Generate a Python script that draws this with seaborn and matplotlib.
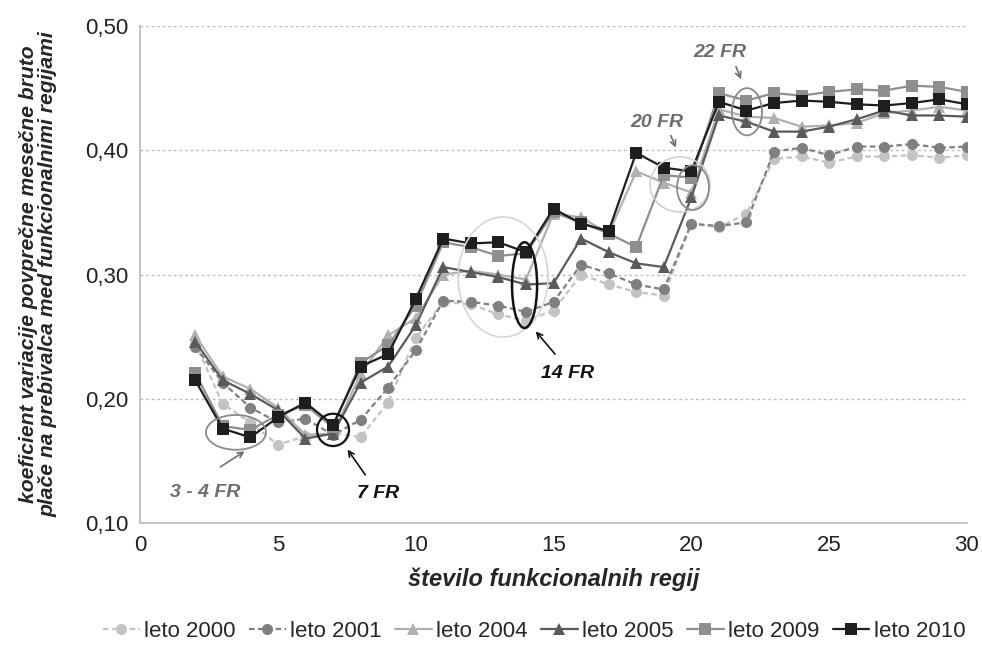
import numpy as np
import pandas as pd
import matplotlib
matplotlib.use("Agg")
import matplotlib.pyplot as plt
from matplotlib.patches import Ellipse
from matplotlib.ticker import FuncFormatter
import seaborn as sns

# number of functional regions
regije = list(range(2, 31))

leto_2000 = [0.245, 0.196, 0.181, 0.163, 0.170, 0.173, 0.169, 0.197, 0.249, 0.278,
             0.276, 0.268, 0.263, 0.271, 0.300, 0.292, 0.286, 0.283, 0.341, 0.338,
             0.349, 0.393, 0.395, 0.390, 0.395, 0.395, 0.396, 0.394, 0.396]
leto_2001 = [0.242, 0.213, 0.193, 0.181, 0.184, 0.171, 0.183, 0.209, 0.239, 0.279,
             0.278, 0.275, 0.270, 0.278, 0.308, 0.301, 0.292, 0.288, 0.341, 0.339,
             0.342, 0.399, 0.402, 0.396, 0.403, 0.403, 0.405, 0.402, 0.403]
leto_2004 = [0.251, 0.218, 0.208, 0.193, 0.171, 0.172, 0.220, 0.251, 0.265, 0.300,
             0.303, 0.300, 0.296, 0.349, 0.346, 0.333, 0.383, 0.374, 0.366, 0.433,
             0.427, 0.426, 0.419, 0.420, 0.422, 0.430, 0.432, 0.435, 0.432]
leto_2005 = [0.246, 0.215, 0.204, 0.191, 0.168, 0.172, 0.213, 0.226, 0.259, 0.306,
             0.302, 0.298, 0.292, 0.293, 0.329, 0.318, 0.309, 0.306, 0.362, 0.428,
             0.423, 0.415, 0.415, 0.419, 0.425, 0.432, 0.428, 0.428, 0.427]
leto_2009 = [0.221, 0.178, 0.175, 0.187, 0.195, 0.177, 0.229, 0.243, 0.275, 0.326,
             0.322, 0.315, 0.317, 0.350, 0.342, 0.333, 0.322, 0.380, 0.378, 0.446,
             0.440, 0.446, 0.444, 0.447, 0.449, 0.448, 0.452, 0.451, 0.447]
leto_2010 = [0.215, 0.176, 0.169, 0.185, 0.197, 0.179, 0.226, 0.236, 0.280, 0.329,
             0.325, 0.326, 0.318, 0.353, 0.341, 0.335, 0.398, 0.386, 0.383, 0.439,
             0.432, 0.438, 0.440, 0.439, 0.437, 0.436, 0.438, 0.441, 0.437]

serije = {
    "leto 2000": leto_2000,
    "leto 2001": leto_2001,
    "leto 2004": leto_2004,
    "leto 2005": leto_2005,
    "leto 2009": leto_2009,
    "leto 2010": leto_2010,
}

# (color, marker, linestyle)
kratko = (0, (2.5, 1.5))
slog = {
    "leto 2000": ("#c3c3c3", "o", kratko),
    "leto 2001": ("#808080", "o", kratko),
    "leto 2004": ("#b0b0b0", "^", "-"),
    "leto 2005": ("#5a5a5a", "^", "-"),
    "leto 2009": ("#8f8f8f", "s", "-"),
    "leto 2010": ("#1e1e1e", "s", "-"),
}

sns.set_style("white")
plt.rcParams["font.family"] = ["Liberation Sans", "DejaVu Sans"]

fig = plt.figure(figsize=(9.82, 6.45), dpi=100)
ax = fig.add_axes([0.1426, 0.189, 0.8421, 0.7707])

for ime, vrednosti in serije.items():
    barva, marker, ls = slog[ime]
    df = pd.DataFrame({"x": regije, "y": vrednosti})
    sns.lineplot(data=df, x="x", y="y", ax=ax, color=barva, marker=marker,
                 linestyle=ls, linewidth=1.6, markersize=8, markeredgewidth=0,
                 label=ime)

ax.set_xlim(0, 30)
ax.set_ylim(0.10, 0.50)
ax.set_xticks([0, 5, 10, 15, 20, 25, 30])
ax.set_yticks([0.10, 0.20, 0.30, 0.40, 0.50])
ax.yaxis.set_major_formatter(FuncFormatter(lambda v, p: f"{v:.2f}".replace(".", ",")))
ax.tick_params(axis="both", labelsize=16, colors="#222222", length=5, width=1)
ax.tick_params(axis="both", color="#bbbbbb")
ax.grid(axis="y", linestyle=(0, (2, 2)), color="#bdbdbd", linewidth=1)
for s in ["top", "right"]:
    ax.spines[s].set_visible(False)
for s in ["left", "bottom"]:
    ax.spines[s].set_color("#bbbbbb")
    ax.spines[s].set_linewidth(1.2)

ax.set_xlabel("število funkcionalnih regij", fontsize=17, fontweight="bold",
              fontstyle="italic", labelpad=8)
ax.set_ylabel("koeficient variacije povprečne mesečne bruto\nplače na prebivalca med funkcionalnimi regijami",
              fontsize=15.2, fontweight="bold", fontstyle="italic", labelpad=20,
              linespacing=1.0)

# ellipses marking interesting cuts
obroc = [
    (3.48, 0.173, 2.18, 0.028, "#8a8a8a", 1.3),
    (7.0, 0.175, 1.16, 0.026, "#111111", 1.6),
    (13.17, 0.298, 3.26, 0.0966, "#d5d5d5", 1.2),
    (13.95, 0.2915, 0.91, 0.069, "#111111", 1.8),
    (19.59, 0.3724, 2.18, 0.0443, "#d0d0d0", 1.2),
    (20.06, 0.370, 1.16, 0.036, "#8a8a8a", 1.3),
    (22.02, 0.431, 1.09, 0.038, "#8a8a8a", 1.3),
]
for cx, cy, w, h, c, lw in obroc:
    ax.add_patch(Ellipse((cx, cy), w, h, fill=False, edgecolor=c, linewidth=lw, zorder=5))

oznake = [
    ("3 - 4 FR", (2.36, 0.125), (3.88, 0.159), (2.83, 0.144), "#6e6e6e"),
    ("7 FR", (8.63, 0.124), (7.47, 0.161), (8.23, 0.137), "#111111"),
    ("14 FR", (15.52, 0.2206), (14.29, 0.256), (15.12, 0.2343), "#111111"),
    ("20 FR", (18.75, 0.4227), (19.48, 0.400), (19.22, 0.4138), "#6e6e6e"),
    ("22 FR", (21.04, 0.479), (21.84, 0.455), (21.58, 0.4694), "#6e6e6e"),
]
for txt, pos, tip, tail, c in oznake:
    ax.text(pos[0], pos[1], txt, ha="center", va="center", fontsize=14,
            fontweight="bold", fontstyle="italic", color=c)
    ax.annotate("", xy=tip, xytext=tail,
                arrowprops=dict(arrowstyle="->", color=c, lw=1.2))

ax.get_legend().remove()
handles, labels = ax.get_legend_handles_labels()
fig.legend(handles, labels, loc="center", bbox_to_anchor=(0.544, 0.021), ncol=6,
           frameon=False, fontsize=16, handlelength=1.65, handletextpad=0.2,
           columnspacing=0.6, borderpad=0.1)

fig.savefig("out.png", dpi=100)
